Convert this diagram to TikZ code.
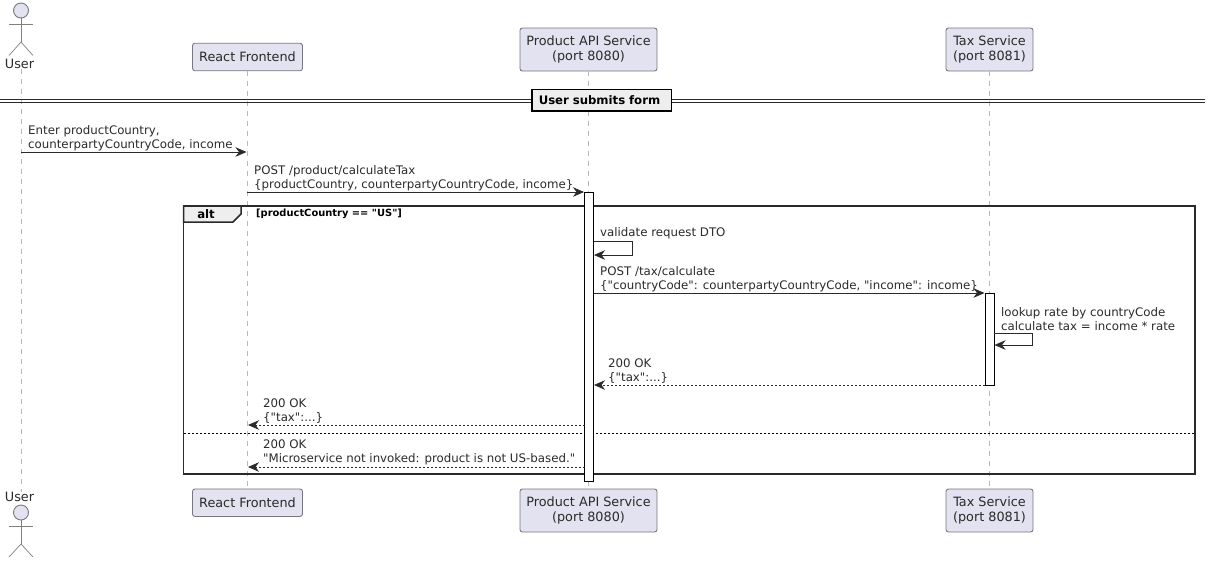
\documentclass[tikz,border=0pt]{standalone}
\usepackage{fontspec}
\setmainfont{DejaVu Sans}[Ligatures=TeXOff]
\usetikzlibrary{arrows.meta, positioning}
\definecolor{partfill}{HTML}{E2E2F0}
\definecolor{partline}{HTML}{77777F}
\definecolor{lifegray}{HTML}{B8B8B8}
\definecolor{inkgray}{HTML}{2A2A2A}
\definecolor{tabfill}{HTML}{EEEEEE}
\tikzset{
    participant/.style = {draw=partline, fill=partfill, rounded corners=2.5pt, text=inkgray, align=center, inner sep=0pt, line width=0.9pt, minimum height=27.5pt, font=\fontsize{12.8}{14.5}\selectfont},
    lifeline/.style = {draw=lifegray, dash pattern=on 5pt off 5pt, line width=0.8pt},
    msglabel/.style = {anchor=west, align=left, inner sep=0pt, text=inkgray, font=\fontsize{11.8}{14}\selectfont},
    msg/.style = {-{Stealth[length=11pt, width=9.5pt, inset=3.5pt]}, draw=inkgray, line width=0.8pt},
    reply/.style = {msg, dash pattern=on 2pt off 2pt},
    actbar/.style = {draw=black, fill=white, line width=0.8pt, inner sep=0pt, minimum width=9pt},
    stick/.style = {draw=gray, line width=0.7pt},
    actorhead/.style = {circle, draw=partline, fill=partfill, line width=0.9pt, inner sep=0pt, minimum size=15pt}
}
\begin{document}
\begin{tikzpicture}[x=1pt, y=-1pt]
    \useasboundingbox (0,0) rectangle (1211,566);

    \node[participant, minimum width=110pt]			(rf)	at (247.5,57)		{React Frontend};
    \node[participant, minimum width=137pt, minimum height=43pt]	(pa)	at (588.5,49.5)		{Product API Service\\(port 8080)};
    \node[participant, minimum width=87pt, minimum height=43pt]	(ts)	at (989.5,49.5)		{Tax Service\\(port 8081)};
    \node[participant, minimum width=110pt]			(rfb)	at (247.5,502.7)	{React Frontend};
    \node[participant, minimum width=137pt, minimum height=43pt]	(pab)	at (588.5,510.5)	{Product API Service\\(port 8080)};
    \node[participant, minimum width=87pt, minimum height=43pt]	(tsb)	at (989.5,510.5)	{Tax Service\\(port 8081)};

    \node[actorhead]	(uh)	at (21,10.5)	{};
    \node[actorhead]	(uhb)	at (21,512.5)	{};
    \node[inner sep=0pt, text=inkgray, font=\fontsize{12.8}{14}\selectfont]	(ul)	at (19.5,64)	{User};
    \node[inner sep=0pt, text=inkgray, font=\fontsize{12.8}{14}\selectfont]	(ulb)	at (19.5,496.5)	{User};

    \coordinate (ub) at (21,42);
    \coordinate (ubb) at (21,544);
    \draw[stick] (uh) -- (ub);
    \draw[stick] (9,24.5) -- (33,24.5);
    \draw[stick] (9,55.5) -- (ub) -- (33,55.5);
    \draw[stick] (uhb) -- (ubb);
    \draw[stick] (9,526) -- (33,526);
    \draw[stick] (9,557) -- (ubb) -- (33,557);

    \draw[lifeline] (ul.south -| ub) -- (ulb.north -| ub);
    \draw[lifeline] (rf) -- (rfb);
    \draw[lifeline] (pa) -- (pab);
    \draw[lifeline] (ts) -- (tsb);

    \draw[draw=inkgray, line width=0.8pt] (0,99) -- (1205,99) (0,102) -- (1205,102);
    \node[draw=black, fill=tabfill, line width=1.5pt, anchor=west, inner xsep=7pt, inner ysep=0pt, text width=125.5pt, minimum height=21.5pt, font=\fontsize{11.7}{14}\selectfont\bfseries] (div) at (531,100) {User submits form};

    \draw[draw=inkgray, line width=1.5pt] (183.5,206) rectangle (1195,474);
    \draw[draw=inkgray, line width=1.5pt, fill=tabfill] (183.5,206) -- (241,206) -- (241,214) -- (233,222) -- (183.5,222) -- cycle;
    \node[inner sep=0pt, font=\fontsize{11.7}{14}\selectfont\bfseries] (alt) at (206,214) {alt};
    \node[anchor=west, inner sep=0pt, font=\fontsize{9.9}{10}\selectfont\bfseries] (guard) at (256,214) {[productCountry == "US"]};
    \draw[draw=black, line width=0.7pt, dash pattern=on 2pt off 2pt] (184,433) -- (1195,433);

    \node[actbar, minimum height=289pt]	(apa)	at (589,336.5)	{};
    \node[actbar, minimum height=92pt]	(ats)	at (989.5,339)	{};

    \coordinate (e1a) at (21,152);
    \coordinate (e1b) at (246.5,152);
    \coordinate (e2a) at (247,192);
    \coordinate (e2b) at (584,192);
    \coordinate (e3a) at (593.5,241);
    \coordinate (e3b) at (632,241);
    \coordinate (e3c) at (632,255);
    \coordinate (e3d) at (594,255);
    \coordinate (e4a) at (593.5,293);
    \coordinate (e4b) at (984.5,293);
    \coordinate (e5a) at (994,333);
    \coordinate (e5b) at (1032.5,333);
    \coordinate (e5c) at (1032.5,345);
    \coordinate (e5d) at (994.5,345);
    \coordinate (e6a) at (985,385);
    \coordinate (e6b) at (594,385);
    \coordinate (e7a) at (584.5,425);
    \coordinate (e7b) at (248,425);
    \coordinate (e8a) at (584.5,467);
    \coordinate (e8b) at (248,467);

    \draw[msg]	(e1a) -- (e1b);
    \draw[msg]	(e2a) -- (e2b);
    \draw[msg]	(e3a) -- (e3b) -- (e3c) -- (e3d);
    \draw[msg]	(e4a) -- (e4b);
    \draw[msg]	(e5a) -- (e5b) -- (e5c) -- (e5d);
    \draw[reply]	(e6a) -- (e6b);
    \draw[reply]	(e7a) -- (e7b);
    \draw[reply]	(e8a) -- (e8b);

    \node[msglabel]	(l1)	at (28,137.8)	{Enter productCountry,\\counterpartyCountryCode, income};
    \node[msglabel]	(l2)	at (254,178.3)	{POST /product/calculateTax\\\{productCountry, counterpartyCountryCode, income\}};
    \node[msglabel]	(l3)	at (600,232.8)	{validate request DTO};
    \node[msglabel]	(l4)	at (600,278.8)	{POST /tax/calculate\\\{"countryCode": counterpartyCountryCode, "income": income\}};
    \node[msglabel]	(l5)	at (1001,318.8)	{lookup rate by countryCode\\calculate tax = income * rate};
    \node[msglabel]	(l6)	at (608,370.8)	{200 OK\\\{"tax":...\}};
    \node[msglabel]	(l7)	at (263,410.8)	{200 OK\\\{"tax":...\}};
    \node[msglabel]	(l8)	at (263,452.3)	{200 OK\\"Microservice not invoked: product is not US-based."};
\end{tikzpicture}
\end{document}
